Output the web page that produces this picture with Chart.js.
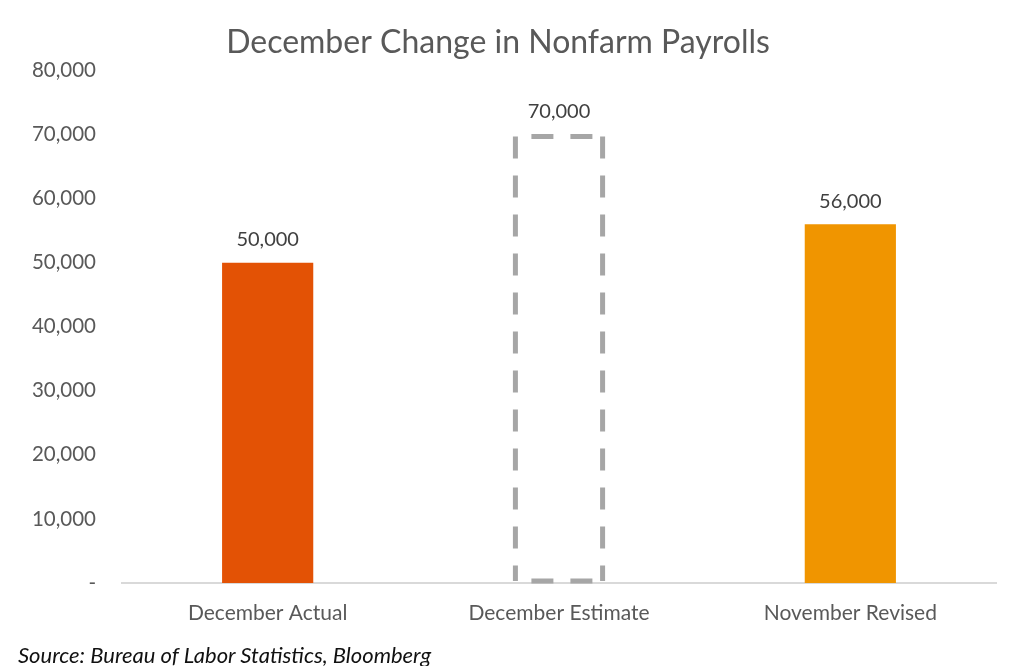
<!DOCTYPE html>
<html>
<head>
<meta charset="utf-8">
<script src="https://cdn.jsdelivr.net/npm/chart.js@4/dist/chart.umd.min.js"></script>
<style>
html,body{margin:0;padding:0;background:#fff;}
#wrap{position:relative;width:1024px;height:666px;}
#source{position:absolute;left:18px;top:641px;font-family:Lato,sans-serif;font-style:italic;font-size:22px;color:#111;}
</style>
</head>
<body>
<div id="wrap">
<canvas id="c" width="1024" height="666"></canvas>
<div id="source">Source: Bureau of Labor Statistics, Bloomberg</div>
</div>
<script>
// datos del grafico
var categories = ['December Actual', 'December Estimate', 'November Revised'];
var payrolls = [50000, 70000, 56000];
var barColors = ['#E35205', 'rgba(0,0,0,0)', '#F09500'];
var dashedIndex = 1;

function fmt(v){
  if(v === 0) return '-';
  return v.toLocaleString('en-US');
}

// barra estimada con borde punteado
var dashedBar = {
  id: 'dashedBar',
  afterDatasetsDraw: function(chart){
    var el = chart.getDatasetMeta(0).data[dashedIndex];
    if(!el) return;
    var ctx = chart.ctx;
    var left = el.x - el.width/2 + 2, right = el.x + el.width/2 - 2;
    var top = el.y + 2, bottom = el.base - 2;
    ctx.save();
    ctx.strokeStyle = '#a6a6a6';
    ctx.lineWidth = 5;
    ctx.setLineDash([22,17]);
    ctx.lineDashOffset = 23;
    ctx.beginPath(); ctx.moveTo(left, top); ctx.lineTo(right, top); ctx.stroke();
    ctx.beginPath(); ctx.moveTo(left, bottom); ctx.lineTo(right, bottom); ctx.stroke();
    ctx.lineDashOffset = 0;
    ctx.beginPath(); ctx.moveTo(left, top); ctx.lineTo(left, bottom); ctx.stroke();
    ctx.beginPath(); ctx.moveTo(right, top); ctx.lineTo(right, bottom); ctx.stroke();
    ctx.restore();
  }
};

// etiquetas de valor encima de cada barra
var valueLabels = {
  id: 'valueLabels',
  afterDatasetsDraw: function(chart){
    var ctx = chart.ctx;
    ctx.save();
    ctx.font = '20px Lato, sans-serif';
    ctx.fillStyle = '#404040';
    ctx.textAlign = 'center';
    ctx.textBaseline = 'middle';
    chart.getDatasetMeta(0).data.forEach(function(el, i){
      ctx.fillText(fmt(payrolls[i]), el.x, el.y - 23);
    });
    ctx.restore();
  }
};

new Chart(document.getElementById('c'), {
  type: 'bar',
  data: { labels: categories, datasets: [{ data: payrolls, backgroundColor: barColors, borderWidth: 0,
    barPercentage: 0.313, categoryPercentage: 1 }]},
  options: {
    responsive: false,
    animation: false,
    layout: { padding: { left: 0, right: 28, top: 0, bottom: 0 } },
    plugins: {
      legend: { display: false },
      tooltip: { enabled: false },
      title: { display: true, text: 'December Change in Nonfarm Payrolls', color: '#595959',
        font: { family: 'Lato, sans-serif', size: 32, weight: 'normal' }, padding: { top: 23, bottom: 9 } }
    },
    scales: {
      x: {
        grid: { display: false },
        border: { color: '#d9d9d9', width: 2 },
        ticks: { color: '#595959', font: { family: 'Lato, sans-serif', size: 21 }, padding: 10 },
        afterFit: function(s){ s.height = 83; }
      },
      y: {
        min: 0, max: 80000,
        grid: { display: false },
        border: { display: false },
        ticks: { stepSize: 10000, color: '#595959', font: { family: 'Lato, sans-serif', size: 20.5 }, padding: 18,
          callback: function(v){ return fmt(v); } },
        afterFit: function(s){ s.width = 122; }
      }
    }
  },
  plugins: [dashedBar, valueLabels]
});
</script>
</body>
</html>
